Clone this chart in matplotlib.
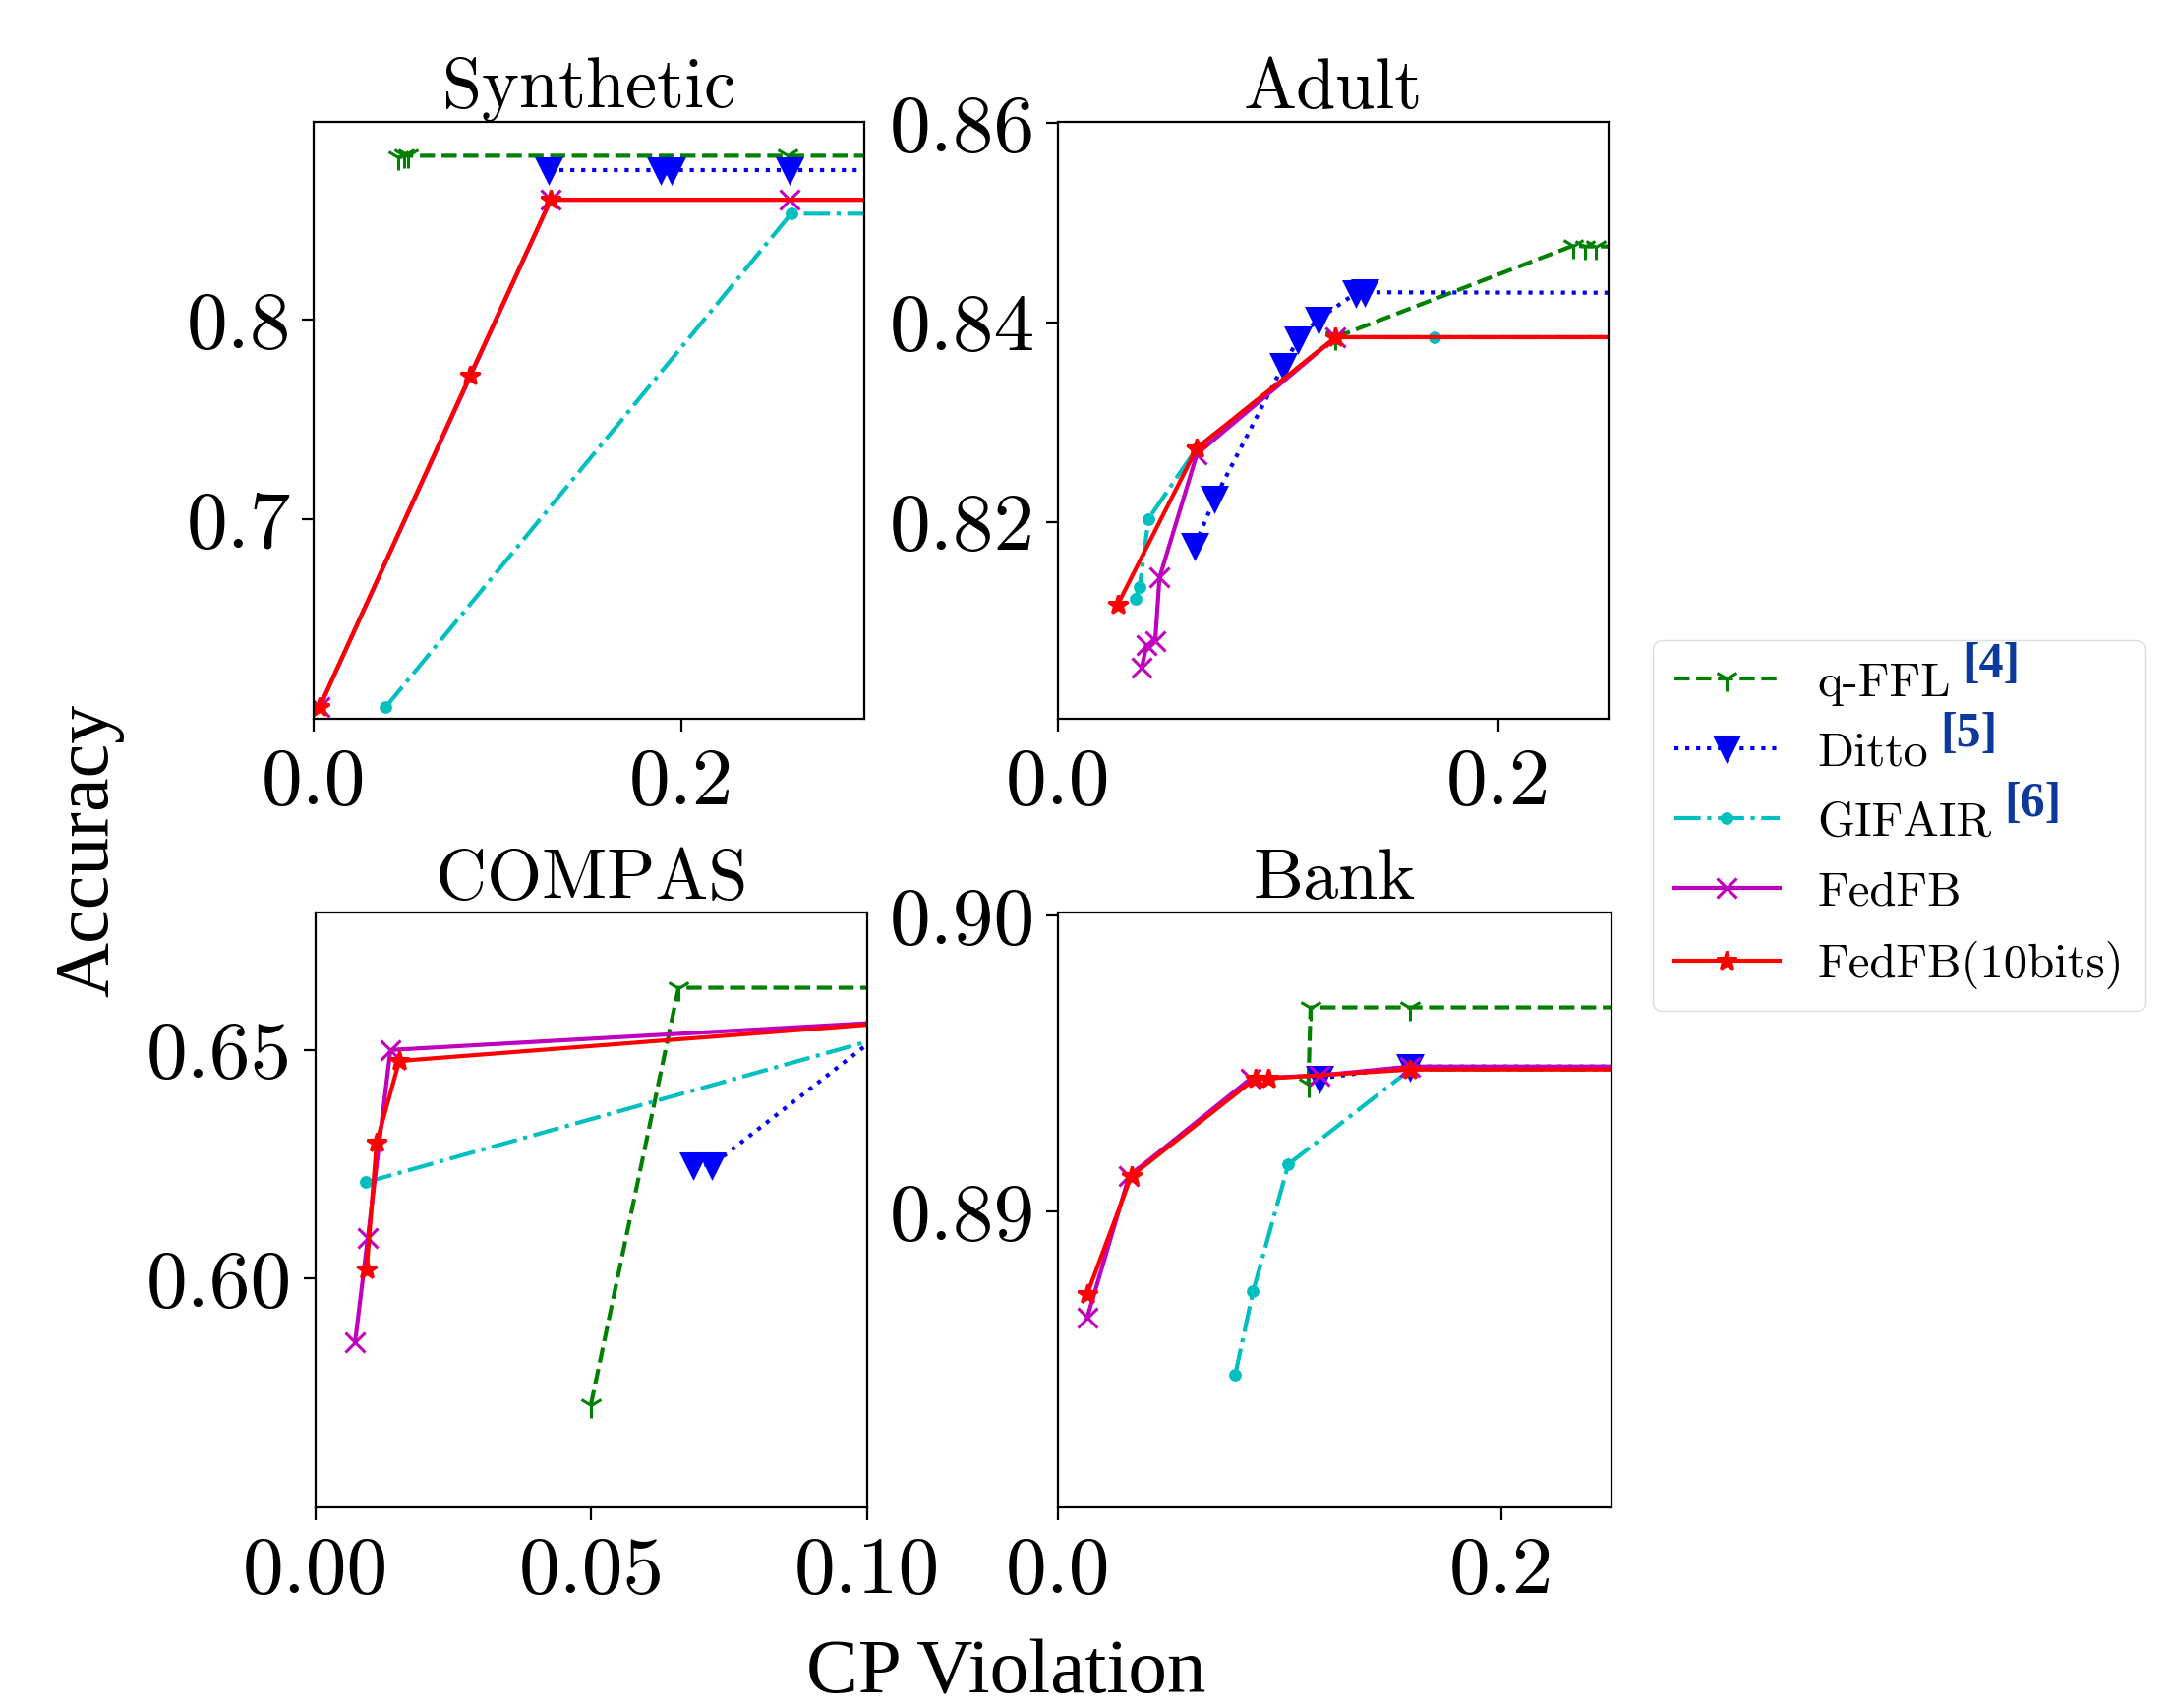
import matplotlib
matplotlib.use('Agg')
import matplotlib.pyplot as plt
import numpy as np

plt.rcParams['font.family'] = 'cmr10'
plt.rcParams['axes.unicode_minus'] = False
plt.rcParams['axes.formatter.use_mathtext'] = True

# method names and citation tags
methods = ['q-FFL', 'Ditto', 'GIFAIR', 'FedFB', 'FedFB(10bits)']
cites = ['[4]', '[5]', '[6]', None, None]
colors = ['g', 'b', 'c', 'm', 'r']
lstyles = ['--', ':', '-.', '-', '-']
markers = ['1', 'v', '.', 'x', '*']
msizes = [18, 17, 14, 15, 15]

# Synthetic (x = CP violation, y = accuracy); last point sits past the x limit
syn_x = {
    'q-FFL': [0.046, 0.049, 0.051, 0.258, 1.0],
    'Ditto': [0.128, 0.189, 0.195, 0.259, 1.0],
    'GIFAIR': [0.039, 0.260, 1.0],
    'FedFB': [0.003, 0.129, 0.259, 1.0],
    'FedFB(10bits)': [0.003, 0.085, 0.129, 1.0],
}
syn_y = {
    'q-FFL': [0.881, 0.882, 0.882, 0.882, 0.882],
    'Ditto': [0.875, 0.875, 0.875, 0.875, 0.875],
    'GIFAIR': [0.606, 0.853, 0.853],
    'FedFB': [0.606, 0.860, 0.860, 0.860],
    'FedFB(10bits)': [0.606, 0.772, 0.860, 0.860],
}

# Adult
adu_x = {
    'q-FFL': [0.126, 0.234, 0.239, 0.244, 1.0],
    'Ditto': [0.062, 0.071, 0.102, 0.109, 0.118, 0.135, 0.139, 1.0],
    'GIFAIR': [0.035, 0.037, 0.041, 0.063, 0.126, 0.171, 1.0],
    'FedFB': [0.038, 0.040, 0.044, 0.046, 0.063, 0.126, 1.0],
    'FedFB(10bits)': [0.027, 0.063, 0.126, 1.0],
}
adu_y = {
    'q-FFL': [0.8385, 0.8477, 0.8476, 0.8476, 0.8476],
    'Ditto': [0.8176, 0.8223, 0.8356, 0.8383, 0.8403, 0.8429, 0.8430, 0.8427],
    'GIFAIR': [0.8123, 0.8135, 0.8203, 0.8274, 0.8385, 0.8385, 0.8385],
    'FedFB': [0.8054, 0.8076, 0.8080, 0.8144, 0.8268, 0.8385, 0.8385],
    'FedFB(10bits)': [0.8117, 0.8274, 0.8385, 0.8385],
}

# COMPAS
com_x = {
    'q-FFL': [0.0499, 0.0658, 1.0],
    'Ditto': [0.0685, 0.0719, 0.12],
    'GIFAIR': [0.0092, 0.12],
    'FedFB': [0.0072, 0.0095, 0.0136, 0.12],
    'FedFB(10bits)': [0.0093, 0.0111, 0.0152, 0.12],
}
com_y = {
    'q-FFL': [0.5724, 0.6636, 0.6636],
    'Ditto': [0.6249, 0.6249, 0.6700],
    'GIFAIR': [0.6211, 0.6586],
    'FedFB': [0.5862, 0.6089, 0.6500, 0.6572],
    'FedFB(10bits)': [0.6020, 0.6298, 0.6476, 0.6574],
}

# Bank
ban_x = {
    'q-FFL': [0.113, 0.114, 0.159, 1.0],
    'Ditto': [0.118, 0.159, 1.0],
    'GIFAIR': [0.080, 0.088, 0.104, 0.159, 1.0],
    'FedFB': [0.013, 0.032, 0.087, 0.118, 0.159, 1.0],
    'FedFB(10bits)': [0.013, 0.033, 0.089, 0.095, 0.159, 1.0],
}
ban_y = {
    'q-FFL': [0.8943, 0.8969, 0.8969, 0.8969],
    'Ditto': [0.8945, 0.8949, 0.8949],
    'GIFAIR': [0.8845, 0.8873, 0.8916, 0.8948, 0.8948],
    'FedFB': [0.8864, 0.8912, 0.8945, 0.8946, 0.8949, 0.8949],
    'FedFB(10bits)': [0.8872, 0.8912, 0.8945, 0.8945, 0.8948, 0.8948],
}

panels = [
    ('Synthetic', syn_x, syn_y, (0, 0.3), (0.6, 0.899), [0.0, 0.2], ['0.0', '0.2'], [0.7, 0.8], ['0.7', '0.8']),
    ('Adult', adu_x, adu_y, (0, 0.25), (0.8002, 0.8601), [0.0, 0.2], ['0.0', '0.2'], [0.82, 0.84, 0.86], ['0.82', '0.84', '0.86']),
    ('COMPAS', com_x, com_y, (0, 0.1), (0.55, 0.68), [0.0, 0.05, 0.1], ['0.00', '0.05', '0.10'], [0.6, 0.65], ['0.60', '0.65']),
    ('Bank', ban_x, ban_y, (0, 0.25), (0.88, 0.9001), [0.0, 0.2], ['0.0', '0.2'], [0.89, 0.9], ['0.89', '0.90']),
]

# axes boxes [left, bottom, width, height] in figure fraction
boxes = [
    [0.1448, 0.5789, 0.2538, 0.3498],
    [0.4879, 0.5789, 0.2538, 0.3498],
    [0.1454, 0.1174, 0.2545, 0.3482],
    [0.4879, 0.1174, 0.2551, 0.3482],
]

fig = plt.figure(figsize=(22.06, 17.37), dpi=100)

lines = []
for (title, xs, ys, xlim, ylim, xt, xtl, yt, ytl), box in zip(panels, boxes):
    ax = fig.add_axes(box)
    lines = []
    for m, c, ls, mk, s in zip(methods, colors, lstyles, markers, msizes):
        ln, = ax.plot(xs[m], ys[m], color=c, linestyle=ls, marker=mk, lw=3,
                      ms=s, mew=2.2, label=m)
        lines.append(ln)
    ax.set_xlim(*xlim)
    ax.set_ylim(*ylim)
    ax.set_xticks(xt)
    ax.set_xticklabels(xtl)
    ax.set_yticks(yt)
    ax.set_yticklabels(ytl)
    ax.tick_params(direction='out', length=9, width=1.6, labelsize=60, pad=8)
    ax.tick_params(axis='x', pad=12)
    for sp in ax.spines.values():
        sp.set_linewidth(1.6)
    ax.set_title(title, fontsize=52, pad=4)

fig.text(0.041, 0.502, 'Accuracy', rotation=90, ha='center', va='center',
         fontsize=56, family='Liberation Serif')
fig.text(0.4637, 0.0195, 'CP Violation', ha='center', va='center',
         fontsize=57, family='Liberation Serif')

leg = fig.legend(lines, methods, loc='center left', bbox_to_anchor=(0.762, 0.5165),
                 bbox_transform=fig.transFigure, fontsize=35, fancybox=True,
                 framealpha=1, edgecolor='#dddddd', handlelength=2.2,
                 labelspacing=0.55, borderpad=0.45, handletextpad=0.8,
                 borderaxespad=0)

# citation tags after the legend labels
fig.canvas.draw()
inv = fig.transFigure.inverted()
for t, c in zip(leg.get_texts(), cites):
    if c is None:
        continue
    bb = t.get_window_extent()
    x0, y0 = inv.transform((bb.x1 + 12, bb.y1 + 20))
    fig.text(x0, y0, c, ha='left', va='top', fontsize=36, fontweight='bold',
             color='#0b3a9c', family='Liberation Serif', zorder=10)

fig.savefig('out.png', dpi=100)
